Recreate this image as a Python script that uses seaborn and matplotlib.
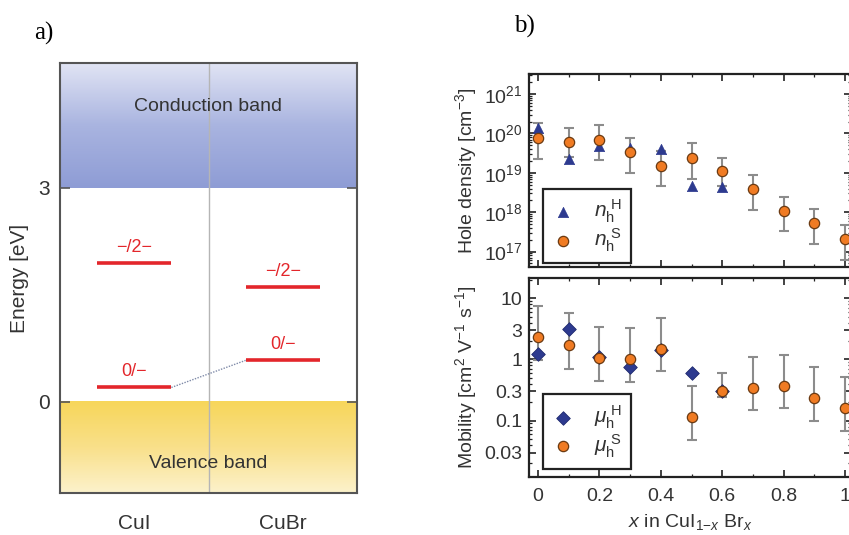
import numpy as np
import pandas as pd
import matplotlib
matplotlib.use("Agg")
import matplotlib.pyplot as plt
import seaborn as sns
from matplotlib.colors import LinearSegmentedColormap
from matplotlib.ticker import FixedLocator, FixedFormatter, LogLocator, NullFormatter, MultipleLocator

# ---------------- data ----------------
# panel a: defect levels
materials = ["CuI", "CuBr"]
level_minus_2minus = [1.95, 1.61]      # -/2- transition level [eV]
level_0_minus = [0.20, 0.58]           # 0/- transition level [eV]
cbm = 3.0                              # conduction band minimum [eV]
vbm = 0.0                              # valence band maximum [eV]
energy_ticks = [0, 3]

# panel b: hole density
x_hall = [0.0, 0.1, 0.2, 0.3, 0.4, 0.5, 0.6]
n_hall = [1.4e20, 2.2e19, 4.9e19, 4.3e19, 4.0e19, 4.7e18, 4.5e18]
x_seeb = [0.0, 0.1, 0.2, 0.3, 0.4, 0.5, 0.6, 0.7, 0.8, 0.9, 1.0]
n_seeb = [7.5e19, 6.0e19, 6.8e19, 3.3e19, 1.46e19, 2.4e19, 1.1e19, 3.9e18, 1.1e18, 5.4e17, 2.1e17]
n_seeb_hi = [1.8e20, 1.35e20, 1.6e20, 7.5e19, 3.5e19, 5.6e19, 2.45e19, 8.9e18, 2.5e18, 1.2e18, 4.8e17]
n_seeb_lo = [2.2e19, 2.5e19, 2.1e19, 1.0e19, 4.6e18, 6.9e18, 4.6e18, 1.17e18, 3.3e17, 1.6e17, 6.3e16]

# panel b: mobility
mu_hall = [1.25, 3.18, 1.10, 0.76, 1.42, 0.61, 0.306]
mu_seeb = [2.3, 1.72, 1.06, 1.01, 1.46, 0.113, 0.306, 0.347, 0.37, 0.236, 0.161]
mu_seeb_hi = [7.5, 5.7, 3.35, 3.27, 4.8, 0.365, 0.59, 1.1, 1.19, 0.76, 0.51]
mu_seeb_lo = [0.99, 0.71, 0.45, 0.43, 0.645, 0.048, 0.245, 0.148, 0.159, 0.10, 0.067]
mu_ticks = [0.03, 0.1, 0.3, 1, 3, 10]
mu_ticklabels = ["0.03", "0.1", "0.3", "1", "3", "10"]
x_ticks = [0, 0.2, 0.4, 0.6, 0.8, 1]
x_ticklabels = ["0", "0.2", "0.4", "0.6", "0.8", "1"]

# ---------------- style ----------------
sns.set_theme(style="ticks")
plt.rcParams["font.family"] = ["Liberation Sans", "DejaVu Sans"]
plt.rcParams["mathtext.fontset"] = "custom"
plt.rcParams["mathtext.rm"] = "Liberation Sans"
plt.rcParams["mathtext.it"] = "Liberation Sans:italic"
plt.rcParams["mathtext.bf"] = "Liberation Sans:bold"
plt.rcParams["axes.unicode_minus"] = True

TXT = "#333333"
NAVY = "#2d3a8f"
ORANGE = "#f07b23"
OEDGE = "#6b3a12"
RED = "#e3262b"
GRAY = "#8c8c8c"

W, H = 849, 535
fig = plt.figure(figsize=(W / 100, H / 100), dpi=100)

def rect(l, t, r, b):
    return [l / W, (H - b) / H, (r - l) / W, (b - t) / H]

# ================= panel a =================
axA = fig.add_axes(rect(60, 63, 357, 493))
ytop, ybot = 4.75, -1.28
xlo, xhi = -0.5, 1.5
axA.set_xlim(xlo, xhi)
axA.set_ylim(ybot, ytop)

cb_cmap = LinearSegmentedColormap.from_list("cb", ["#8e9cd5", "#a9b4e0", "#e1e4f4"])
vb_cmap = LinearSegmentedColormap.from_list("vb", ["#fcf2cc", "#f9e08a", "#f7d65a"])
grad = np.linspace(0, 1, 256).reshape(-1, 1)
axA.imshow(grad, cmap=cb_cmap, origin="lower", aspect="auto",
           extent=[xlo, xhi, cbm, ytop], zorder=0)
axA.imshow(grad, cmap=vb_cmap, origin="lower", aspect="auto",
           extent=[xlo, xhi, ybot, vbm], zorder=0)
axA.axvline(0.5, color="#b5b5b5", lw=1.0, zorder=1)

pos = np.arange(len(materials))
hw = 0.25
axA.hlines(level_minus_2minus, pos - hw, pos + hw, color=RED, lw=2.6, zorder=3)
axA.hlines(level_0_minus, pos - hw, pos + hw, color=RED, lw=2.6, zorder=3)
axA.plot([pos[0] + hw, pos[1] - hw], [level_0_minus[0], level_0_minus[1]],
         ls=(0, (1, 1)), color="#7f8aa8", lw=1.0, zorder=2)
for p, e in zip(pos, level_minus_2minus):
    axA.text(p, e + 0.21, "\u2212/2\u2212", color=RED, fontsize=13, ha="center", va="center")
for p, e in zip(pos, level_0_minus):
    axA.text(p, e + 0.22, "0/\u2212", color=RED, fontsize=13, ha="center", va="center")

axA.text(0.5, 4.14, "Conduction band", color=TXT, fontsize=14, ha="center", va="center")
axA.text(0.5, -0.86, "Valence band", color=TXT, fontsize=14, ha="center", va="center")

axA.set_xticks(pos)
axA.set_xticklabels(materials, fontsize=15, color=TXT)
axA.tick_params(axis="x", length=0, pad=15)
axA.set_yticks(energy_ticks)
axA.set_yticklabels([str(t) for t in energy_ticks], fontsize=15, color=TXT)
axA.tick_params(axis="y", direction="in", length=7, width=1.2, color="#555555",
                left=True, right=True, pad=7)
axA.set_ylabel("Energy [eV]", fontsize=15, color=TXT)
for s in axA.spines.values():
    s.set_color("#555555")
    s.set_linewidth(1.5)
axA.yaxis.set_label_coords(-0.105, 0.5)

fig.text(44 / W, 1 - 33 / H, "a)", fontsize=18, family="Liberation Serif",
         ha="center", va="center", color="black")
fig.text(524 / W, 1 - 26 / H, "b)", fontsize=18, family="Liberation Serif",
         ha="center", va="center", color="black")

# ================= panel b =================
axT = fig.add_axes(rect(529, 74, 851, 267))
axB = fig.add_axes(rect(529, 278, 851, 477))

xl = (-0.0293, 1.0195)

# ---- hole density ----
df_nh = pd.DataFrame({"x": x_hall, "n": n_hall})
df_ns = pd.DataFrame({"x": x_seeb, "n": n_seeb, "lo": n_seeb_lo, "hi": n_seeb_hi})
axT.set_yscale("log")
axT.errorbar(df_ns["x"], df_ns["n"],
             yerr=[df_ns["n"] - df_ns["lo"], df_ns["hi"] - df_ns["n"]],
             fmt="none", ecolor=GRAY, elinewidth=1.5, capsize=3.3, capthick=1.5, zorder=1)
sns.scatterplot(data=df_nh, x="x", y="n", marker="^", s=55, color=NAVY,
                edgecolor=NAVY, linewidth=0.5, ax=axT, zorder=2,
                label=r"$n_\mathrm{h}^{\ \mathrm{H}}$")
sns.scatterplot(data=df_ns, x="x", y="n", marker="o", s=55, color=ORANGE,
                edgecolor=OEDGE, linewidth=0.9, ax=axT, zorder=3,
                label=r"$n_\mathrm{h}^{\ \mathrm{S}}$")
axT.set_ylim(10 ** 16.61, 10 ** 21.51)
axT.set_xlim(*xl)
axT.yaxis.set_major_locator(LogLocator(base=10, numticks=20))
axT.yaxis.set_minor_locator(LogLocator(base=10, subs=np.arange(2, 10), numticks=50))
axT.yaxis.set_minor_formatter(NullFormatter())
axT.set_xlabel("")
axT.xaxis.set_major_locator(FixedLocator(x_ticks))
axT.xaxis.set_minor_locator(MultipleLocator(0.1))
axT.tick_params(axis="x", labelbottom=False)

# ---- mobility ----
df_muh = pd.DataFrame({"x": x_hall, "mu": mu_hall})
df_mus = pd.DataFrame({"x": x_seeb, "mu": mu_seeb, "lo": mu_seeb_lo, "hi": mu_seeb_hi})
axB.set_yscale("log")
axB.errorbar(df_mus["x"], df_mus["mu"],
             yerr=[df_mus["mu"] - df_mus["lo"], df_mus["hi"] - df_mus["mu"]],
             fmt="none", ecolor=GRAY, elinewidth=1.5, capsize=3.3, capthick=1.5, zorder=1)
sns.scatterplot(data=df_muh, x="x", y="mu", marker="D", s=48, color=NAVY,
                edgecolor="#1f2a6e", linewidth=0.6, ax=axB, zorder=2,
                label=r"$\mu_\mathrm{h}^{\ \mathrm{H}}$")
sns.scatterplot(data=df_mus, x="x", y="mu", marker="o", s=55, color=ORANGE,
                edgecolor=OEDGE, linewidth=0.9, ax=axB, zorder=3,
                label=r"$\mu_\mathrm{h}^{\ \mathrm{S}}$")
axB.set_ylim(10 ** -1.923, 10 ** 1.333)
axB.set_xlim(*xl)
axB.yaxis.set_major_locator(FixedLocator(mu_ticks))
axB.yaxis.set_major_formatter(FixedFormatter(mu_ticklabels))
axB.yaxis.set_minor_locator(LogLocator(base=10, subs=np.arange(2, 10), numticks=50))
axB.yaxis.set_minor_formatter(NullFormatter())
axB.xaxis.set_major_locator(FixedLocator(x_ticks))
axB.xaxis.set_major_formatter(FixedFormatter(x_ticklabels))
axB.xaxis.set_minor_locator(MultipleLocator(0.1))
axB.set_xlabel(r"$x$ in CuI$_{1\mathrm{-}x}$ Br$_x$", fontsize=14, color=TXT, labelpad=5)

for ax in (axT, axB):
    for s in ax.spines.values():
        s.set_color("#222222")
        s.set_linewidth(1.6)
    ax.tick_params(which="both", direction="in", top=True, right=True,
                   color="#222222", labelcolor=TXT)
    ax.tick_params(which="major", length=5, width=1.2, labelsize=14, pad=5)
    ax.tick_params(which="minor", length=2.5, width=0.9)
    ax.tick_params(axis="x", which="major", pad=8)

axT.set_ylabel("Hole density [cm$^{-3}$]", fontsize=14, color=TXT)
axT.yaxis.set_label_coords(-0.155, 0.5)
axB.set_ylabel("Mobility [cm$^2$ V$^{-1}$ s$^{-1}$]", fontsize=14, color=TXT)
axB.yaxis.set_label_coords(-0.155, 0.5)

legkw = dict(loc="lower left", frameon=True, fancybox=False, fontsize=15,
             borderaxespad=0, handlelength=1.0, handletextpad=1.0,
             labelspacing=0.05, borderpad=0.45, markerscale=1.0)
lg1 = axT.legend(bbox_to_anchor=(0.043, 0.02), **legkw)
lg2 = axB.legend(bbox_to_anchor=(0.043, 0.04), **legkw)
for lg in (lg1, lg2):
    fr = lg.get_frame()
    fr.set_edgecolor("#222222")
    fr.set_linewidth(1.6)
    fr.set_facecolor("white")
    fr.set_alpha(1)
    for t in lg.get_texts():
        t.set_color(TXT)

fig.savefig("out.png", dpi=100)
